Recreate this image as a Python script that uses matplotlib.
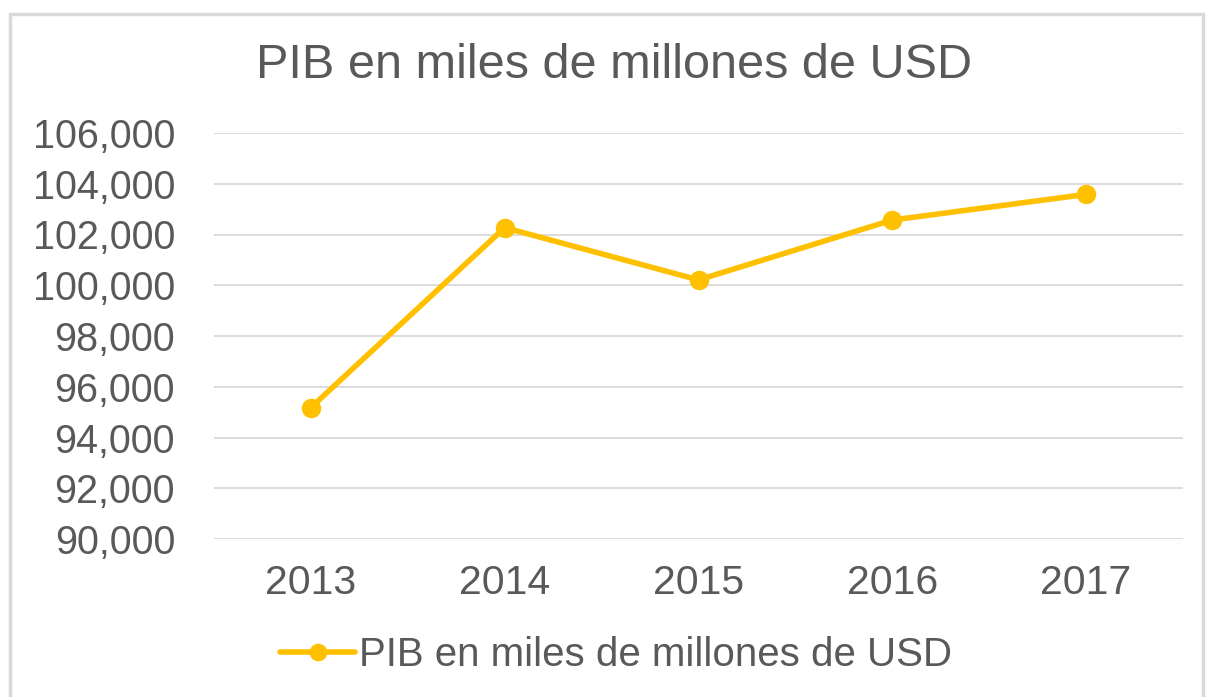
import matplotlib
matplotlib.use("Agg")
import matplotlib.pyplot as plt
import matplotlib.patches as mp
from matplotlib.ticker import FuncFormatter, MultipleLocator

plt.rcParams["font.family"] = ["Liberation Sans", "DejaVu Sans"]

years = ["2013", "2014", "2015", "2016", "2017"]
pib = [95180, 102270, 100210, 102570, 103580]
series_name = "PIB en miles de millones de USD"

GRAY = "#595959"
GOLD = "#FFC000"
GRID = "#D9D9D9"

W, H = 1208, 697
fig = plt.figure(figsize=(W / 100, H / 100), dpi=100)
ax = fig.add_axes([214 / W, 1 - 539 / H, (1183 - 214) / W, (539 - 133) / H])

x = list(range(len(years)))
ax.plot(x, pib, color=GOLD, lw=4.0, marker="o", ms=13, label=series_name,
        solid_capstyle="round", zorder=3)

ax.set_xlim(-0.5, len(years) - 0.5)
ax.set_ylim(90000, 106000)
ax.yaxis.set_major_locator(MultipleLocator(2000))
ax.yaxis.set_major_formatter(FuncFormatter(lambda v, _: f"{int(v):,}"))
ax.set_xticks(x)
ax.set_xticklabels(years)
ax.grid(axis="y", color=GRID, lw=1.3)
ax.set_axisbelow(True)
for s in ax.spines.values():
    s.set_visible(False)
ax.tick_params(length=0, colors=GRAY)
ax.tick_params(axis="y", labelsize=28.5, pad=28)
ax.tick_params(axis="x", labelsize=29.5, pad=18)

fig.text(0.508, 1 - 66 / H, series_name, ha="center", va="center",
         fontsize=35, color=GRAY)

leg = fig.legend(loc="center", bbox_to_anchor=(0.51, 1 - 655 / H), frameon=False,
                 fontsize=29, handlelength=1.85, handletextpad=0.1, markerscale=0.9)
for t in leg.get_texts():
    t.set_color(GRAY)

fig.patches.append(mp.Rectangle((10 / W, -0.05), (1203 - 10) / W, 1.05 - 14 / H,
                                transform=fig.transFigure, fill=False,
                                edgecolor=GRID, lw=2.5))

fig.savefig("out.png", dpi=100)
